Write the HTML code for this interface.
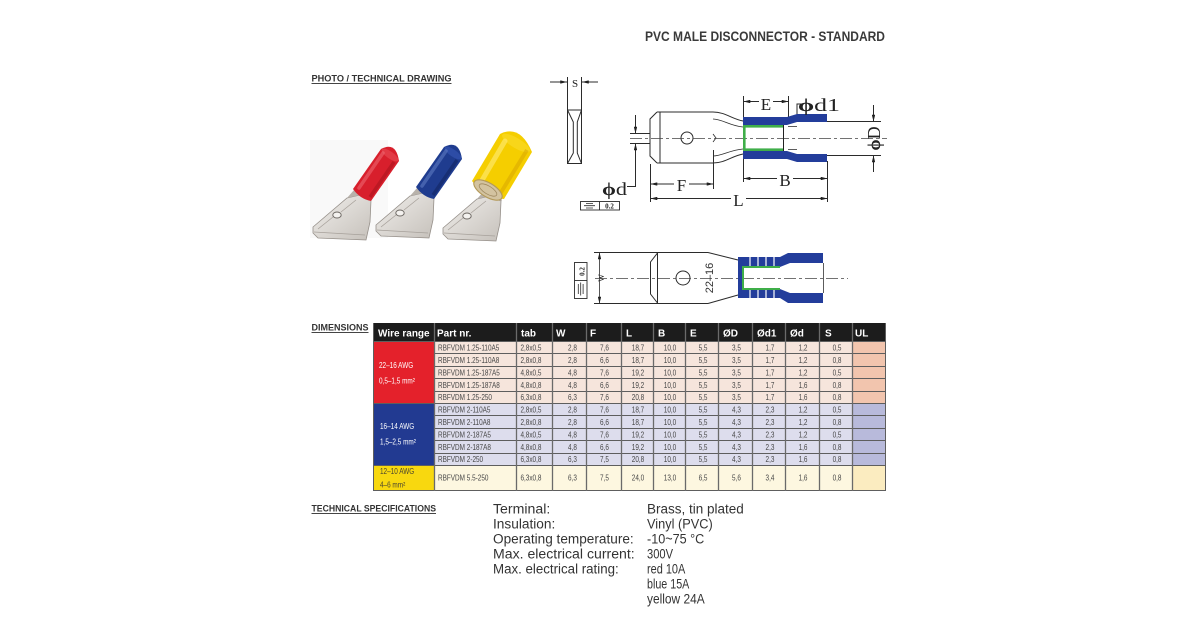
<!DOCTYPE html>
<html><head><meta charset="utf-8"><style>html,body{margin:0;padding:0;background:#fff;width:1200px;height:630px;overflow:hidden}svg{display:block}</style></head><body>
<svg width="1200" height="630" viewBox="0 0 1200 630" xmlns="http://www.w3.org/2000/svg" font-family="'Liberation Sans',Arial,sans-serif">
<defs>
<marker id="ar" viewBox="0 0 8 4" refX="8" refY="2" markerWidth="7" markerHeight="3.4" markerUnits="userSpaceOnUse" orient="auto-start-reverse"><path d="M0,0L8,2L0,4z" fill="#222"/></marker>
<linearGradient id="mt" x1="0" y1="0" x2="1" y2="1"><stop offset="0" stop-color="#f1efec"/><stop offset="1" stop-color="#c6c1bb"/></linearGradient>
<g id="tab">
 <polygon points="313,227 347,198 360,195 371,200 370,222 366,240 318,238 313,233" fill="url(#mt)" stroke="#958f89" stroke-width="0.8"/>
 <path d="M314,232 L365,235 M318,229 L333,217 M341,212 L356,200" stroke="#a7a19b" stroke-width="0.8" fill="none"/>
 <ellipse cx="337" cy="215" rx="4.2" ry="3" fill="#f4f2ef" stroke="#6f6a65" stroke-width="1"/>
 <polygon points="347,198 354,190 370,193 372,200 360,195" fill="#b8b2ab"/>
</g>
</defs>

<!-- Headings -->
<text x="645" y="41" font-size="13.5" font-weight="bold" fill="#3a3a3a" textLength="240" lengthAdjust="spacingAndGlyphs">PVC MALE DISCONNECTOR - STANDARD</text>
<text x="311.5" y="81.5" font-size="9.5" font-weight="bold" fill="#333" textLength="140" lengthAdjust="spacingAndGlyphs">PHOTO / TECHNICAL DRAWING</text>
<line x1="311.5" y1="83.5" x2="451.5" y2="83.5" stroke="#444" stroke-width="0.9"/>
<text x="311.5" y="330.5" font-size="9.5" font-weight="bold" fill="#333" textLength="57" lengthAdjust="spacingAndGlyphs">DIMENSIONS</text>
<line x1="311.5" y1="332.5" x2="368.5" y2="332.5" stroke="#444" stroke-width="0.9"/>
<text x="311.5" y="511.5" font-size="9.5" font-weight="bold" fill="#333" textLength="124.5" lengthAdjust="spacingAndGlyphs">TECHNICAL SPECIFICATIONS</text>
<line x1="311.5" y1="513.5" x2="436" y2="513.5" stroke="#444" stroke-width="0.9"/>

<!-- Photo -->
<rect x="310" y="140" width="78" height="98" fill="#f9f9f9"/>
<!-- red -->
<use href="#tab"/>
<path d="M353,189 L381,149 Q396,141 399,161 L371,201 Q360,199 353,189Z" fill="#d81f2c"/>
<ellipse cx="390" cy="155" rx="10" ry="3.5" transform="rotate(35,390,155)" fill="#e23a45"/>
<path d="M359,188 L383,153" stroke="#f0747d" stroke-width="3.5" stroke-linecap="round" opacity="0.5"/>
<path d="M370,197 L394,162" stroke="#9e1019" stroke-width="3.5" opacity="0.45"/>
<!-- blue -->
<g transform="translate(63,-2)">
 <use href="#tab"/>
 <path d="M353,189 L381,149 Q396,141 399,161 L371,201 Q360,199 353,189Z" fill="#1f3c8f"/>
 <ellipse cx="390" cy="155" rx="10" ry="3.5" transform="rotate(35,390,155)" fill="#2d4ca6"/>
 <path d="M359,188 L383,153" stroke="#6a86cc" stroke-width="3.5" stroke-linecap="round" opacity="0.5"/>
 <path d="M370,197 L394,162" stroke="#0f1f55" stroke-width="3.5" opacity="0.45"/>
</g>
<!-- yellow -->
<g transform="translate(130,1)"><use href="#tab"/></g>
<path d="M472,181 L500,134 Q520,124 532,152 L504,199 Q485,198 472,181Z" fill="#f5ce00"/>
<ellipse cx="516" cy="143" rx="16" ry="5" transform="rotate(31,516,143)" fill="#f8d61a"/>
<path d="M481,182 L505,141" stroke="#ffec7a" stroke-width="5" stroke-linecap="round" opacity="0.6"/>
<path d="M500,194 L527,150" stroke="#d6a400" stroke-width="4" opacity="0.5"/>
<ellipse cx="488" cy="190" rx="16" ry="7" transform="rotate(31,488,190)" fill="#d3c3a0" stroke="#b49a5a" stroke-width="1.2"/>
<ellipse cx="488" cy="190" rx="10" ry="4" transform="rotate(31,488,190)" fill="none" stroke="#a08a60" stroke-width="0.8"/>

<!-- Top technical drawing -->
<g stroke="#2b2b2b" stroke-width="1" fill="none">
 <line x1="550" y1="82" x2="567" y2="82" marker-end="url(#ar)"/>
 <line x1="598" y1="82" x2="582" y2="82" marker-end="url(#ar)"/>
 <path d="M567.5,77 V163.5 H581.5 V77"/>
 <path d="M567.5,110 H581.5 M567.5,110 L573.3,122 V153 L567.5,163.5 M581.5,110 L577.3,122 V153 L581.5,163.5"/>
 <path d="M657,112 L713,112 C725,112 732,119 743,121"/>
 <path d="M657,163 L713,163 C725,163 732,156 743,154"/>
 <path d="M657,112 L650,119 L650,156 L657,163 M660,112 V163"/>
 <path d="M713,119 C722,119 730,126 743,127 M713,156 C722,156 730,150 743,149 M713,134 L716,138 L713,142" stroke-width="0.8"/>
 <circle cx="687" cy="138" r="6"/>
 <line x1="630" y1="138.5" x2="887" y2="138.5" stroke="#444" stroke-width="0.8" stroke-dasharray="12 3 3 3"/>
 <line x1="743.5" y1="96" x2="743.5" y2="118"/>
 <line x1="788.5" y1="96" x2="788.5" y2="118"/>
 <line x1="743.5" y1="101.5" x2="788.5" y2="101.5" marker-start="url(#ar)" marker-end="url(#ar)"/>
 <path d="M797,115 V104 H803"/>
 <line x1="827" y1="121.5" x2="881" y2="121.5"/>
 <line x1="827" y1="155.5" x2="881" y2="155.5"/>
 <line x1="873.5" y1="105" x2="873.5" y2="121.5" marker-end="url(#ar)"/>
 <line x1="873.5" y1="172" x2="873.5" y2="155.5" marker-end="url(#ar)"/>
 <line x1="630" y1="133.5" x2="650" y2="133.5"/>
 <line x1="630" y1="143.5" x2="650" y2="143.5"/>
 <line x1="635.5" y1="115" x2="635.5" y2="133.5" marker-end="url(#ar)"/>
 <path d="M627,186.5 H635.5 V143.5" marker-end="url(#ar)"/>
 <line x1="650.5" y1="164" x2="650.5" y2="202"/>
 <line x1="713.5" y1="150" x2="713.5" y2="189"/>
 <line x1="743.5" y1="158" x2="743.5" y2="182"/>
 <line x1="827.5" y1="161" x2="827.5" y2="202"/>
 <line x1="650.5" y1="184" x2="713.5" y2="184" marker-start="url(#ar)" marker-end="url(#ar)"/>
 <line x1="743.5" y1="178.5" x2="827.5" y2="178.5" marker-start="url(#ar)" marker-end="url(#ar)"/>
 <line x1="650.5" y1="198.5" x2="827.5" y2="198.5" marker-start="url(#ar)" marker-end="url(#ar)"/>
 <rect x="580.5" y="201.5" width="39" height="8.5" stroke-width="0.9"/>
 <line x1="599.5" y1="201.5" x2="599.5" y2="210" stroke-width="0.9"/>
 <path d="M586,203.5 H593 M584,205.7 H595 M586,208 H593" stroke-width="0.8"/>
</g>
<polygon points="743,117 787,117 797,114 827,114 827,122 797,122 787,125 743,125" fill="#233d9b"/>
<polygon points="743,151 787,151 797,154 827,154 827,162 797,162 787,159 743,159" fill="#233d9b"/>
<rect x="744" y="125" width="39" height="2.6" fill="#3fae49"/>
<rect x="744" y="148.4" width="39" height="2.6" fill="#3fae49"/>
<rect x="743" y="125" width="2.6" height="26" fill="#3fae49"/>
<line x1="783.5" y1="125" x2="783.5" y2="151" stroke="#222" stroke-width="1"/>
<line x1="788" y1="126.5" x2="797" y2="126.5" stroke="#333" stroke-width="0.8"/>
<line x1="788" y1="149.5" x2="797" y2="149.5" stroke="#333" stroke-width="0.8"/>

<g font-family="'Liberation Serif','DejaVu Serif',serif" fill="#222">
 <text x="575" y="87" font-size="11" text-anchor="middle">S</text>
 <rect x="759" y="96" width="14" height="13" fill="#fff"/>
 <text x="766" y="110" font-size="17" text-anchor="middle">E</text>
 <text x="798" y="111" font-size="18" textLength="42" lengthAdjust="spacingAndGlyphs"><tspan font-weight="bold">ϕ</tspan>d1</text>
 <text transform="translate(880,138.5) rotate(-90)" font-size="18" text-anchor="middle"><tspan font-weight="bold">ϕ</tspan>D</text>
 <text x="602" y="195" font-size="18" textLength="25" lengthAdjust="spacingAndGlyphs"><tspan font-weight="bold">ϕ</tspan>d</text>
 <rect x="674" y="178" width="15" height="13" fill="#fff"/>
 <text x="681.5" y="191" font-size="17" text-anchor="middle">F</text>
 <rect x="777" y="172" width="16" height="14" fill="#fff"/>
 <text x="785" y="186" font-size="17" text-anchor="middle">B</text>
 <rect x="731" y="192" width="15" height="14" fill="#fff"/>
 <text x="738.5" y="206" font-size="17" text-anchor="middle">L</text>
 <text x="609.5" y="208.5" font-size="7" font-weight="bold" text-anchor="middle">0.2</text>
</g>

<!-- Bottom technical drawing -->
<g stroke="#2b2b2b" stroke-width="1" fill="none">
 <rect x="574.5" y="262.5" width="12.5" height="36" stroke-width="0.9"/>
 <line x1="574.5" y1="280.5" x2="587" y2="280.5" stroke-width="0.9"/>
 <path d="M578.3,284 V294 M580.7,282.5 V295.5 M583.1,284 V294" stroke-width="0.8"/>
 <line x1="594" y1="252.5" x2="708" y2="252.5"/>
 <line x1="594" y1="303.5" x2="708" y2="303.5"/>
 <line x1="599.5" y1="252.5" x2="599.5" y2="303.5" marker-start="url(#ar)" marker-end="url(#ar)" stroke-width="0.8"/>
 <path d="M708,252.5 L738,260 M708,303.5 L738,295"/>
 <path d="M657.5,252.5 V303.5 M657.5,253 L650.5,262 V294 L657.5,303"/>
 <circle cx="683" cy="278" r="7"/>
 <line x1="595" y1="278.5" x2="848" y2="278.5" stroke="#444" stroke-width="0.8" stroke-dasharray="12 3 3 3"/>
</g>
<polygon points="738,257 780,257 780,267 742,267 742,289 780,289 780,298 738,298" fill="#233d9b"/>
<g stroke="#fff" stroke-width="1.2">
 <line x1="750" y1="257" x2="750" y2="266"/><line x1="758" y1="257" x2="758" y2="266"/><line x1="766" y1="257" x2="766" y2="266"/><line x1="774" y1="257" x2="774" y2="266"/>
 <line x1="750" y1="290" x2="750" y2="298"/><line x1="758" y1="290" x2="758" y2="298"/><line x1="766" y1="290" x2="766" y2="298"/><line x1="774" y1="290" x2="774" y2="298"/>
</g>
<rect x="742" y="266" width="38" height="2" fill="#3fae49"/>
<rect x="742" y="288" width="38" height="2" fill="#3fae49"/>
<rect x="742" y="266" width="2" height="24" fill="#3fae49"/>
<polygon points="780,257 788,253 823,253 823,263 790,263 780,267" fill="#233d9b"/>
<polygon points="780,298 788,303 823,303 823,293 790,293 780,289" fill="#233d9b"/>
<line x1="823.5" y1="263" x2="823.5" y2="293" stroke="#333" stroke-width="0.8"/>
<text transform="translate(713,278) rotate(-90)" font-size="11" text-anchor="middle" fill="#333">22–16</text>
<text transform="translate(604,278) rotate(-90)" font-size="8" text-anchor="middle" fill="#222" font-family="'Liberation Serif',serif">W</text>
<text transform="translate(584.5,271.5) rotate(-90)" font-size="7" font-weight="bold" text-anchor="middle" fill="#222" font-family="'Liberation Serif',serif">0.2</text>

<!-- Table -->
<rect x="373" y="323" width="512" height="18" fill="#1c1c1c"/>
<rect x="373" y="341" width="61" height="62" fill="#e4212b"/>
<rect x="373" y="403" width="61" height="62" fill="#223a91"/>
<rect x="373" y="465" width="61" height="25" fill="#f8d80f"/>
<rect x="434" y="341" width="418" height="62" fill="#f6e5dc"/>
<rect x="852" y="341" width="33" height="62" fill="#f2c5ae"/>
<rect x="434" y="403" width="418" height="62" fill="#dddded"/>
<rect x="852" y="403" width="33" height="62" fill="#b8badb"/>
<rect x="434" y="465" width="418" height="25" fill="#fdf7e0"/>
<rect x="852" y="465" width="33" height="25" fill="#fbecc0"/>
<g stroke="#5e5e5e" stroke-width="1">
 <path d="M434,353.5H885 M434,366.5H885 M434,378.5H885 M434,391.5H885 M434,415.5H885 M434,428.5H885 M434,440.5H885 M434,453.5H885"/>
 <path d="M373,341.5H885 M373,403.5H885 M373,465.5H885 M373,490.5H885"/>
 <path d="M373.5,323V491 M885.5,323V491"/>
</g>
<g stroke="#6a6a6a" stroke-width="1.3">
 <path d="M434.5,323V491 M516.5,323V491 M552.5,323V491 M586.5,323V491 M621.5,323V491 M653.5,323V491 M685.5,323V491 M718.5,323V491 M752.5,323V491 M785.5,323V491 M819.5,323V491 M852.5,323V491"/>
</g>
<g font-size="10" font-weight="bold" fill="#fff">
 <text y="336.5"><tspan x="378">Wire range</tspan><tspan x="437">Part nr.</tspan><tspan x="521">tab</tspan><tspan x="556">W</tspan><tspan x="590">F</tspan><tspan x="626">L</tspan><tspan x="658">B</tspan><tspan x="690">E</tspan><tspan x="723">ØD</tspan><tspan x="757">Ød1</tspan><tspan x="790">Ød</tspan><tspan x="825">S</tspan><tspan x="855">UL</tspan></text>
</g>
<g transform="scale(0.8,1)" font-size="8">
 <g fill="#fff">
  <text x="473.75" y="368">22–16 AWG</text>
  <text x="473.75" y="383.5">0,5–1,5 mm²</text>
  <text x="475" y="429">16–14 AWG</text>
  <text x="475" y="444.5">1,5–2,5 mm²</text>
 </g>
 <g fill="#4a4530">
  <text x="475" y="474">12–10 AWG</text>
  <text x="475" y="487.5">4–6 mm²</text>
 </g>
 <g fill="#474747">
  <text y="350.5"><tspan x="547.5">RBFVDM 1.25-110A5</tspan><tspan x="650.6">2,8x0,5</tspan></text>
  <text y="363"><tspan x="547.5">RBFVDM 1.25-110A8</tspan><tspan x="650.6">2,8x0,8</tspan></text>
  <text y="375.5"><tspan x="547.5">RBFVDM 1.25-187A5</tspan><tspan x="650.6">4,8x0,5</tspan></text>
  <text y="388"><tspan x="547.5">RBFVDM 1.25-187A8</tspan><tspan x="650.6">4,8x0,8</tspan></text>
  <text y="400"><tspan x="547.5">RBFVDM 1.25-250</tspan><tspan x="650.6">6,3x0,8</tspan></text>
  <text y="412.5"><tspan x="547.5">RBFVDM 2-110A5</tspan><tspan x="650.6">2,8x0,5</tspan></text>
  <text y="425"><tspan x="547.5">RBFVDM 2-110A8</tspan><tspan x="650.6">2,8x0,8</tspan></text>
  <text y="437.5"><tspan x="547.5">RBFVDM 2-187A5</tspan><tspan x="650.6">4,8x0,5</tspan></text>
  <text y="450"><tspan x="547.5">RBFVDM 2-187A8</tspan><tspan x="650.6">4,8x0,8</tspan></text>
  <text y="462"><tspan x="547.5">RBFVDM 2-250</tspan><tspan x="650.6">6,3x0,8</tspan></text>
  <text y="480.5"><tspan x="547.5">RBFVDM 5.5-250</tspan><tspan x="650.6">6,3x0,8</tspan></text>
 </g>
 <g fill="#474747" text-anchor="middle">
  <text y="350.5"><tspan x="715.6">2,8</tspan><tspan x="755.6">7,6</tspan><tspan x="797.5">18,7</tspan><tspan x="837.5">10,0</tspan><tspan x="878.8">5,5</tspan><tspan x="920.6">3,5</tspan><tspan x="962.5">1,7</tspan><tspan x="1003.8">1,2</tspan><tspan x="1046.3">0,5</tspan></text>
  <text y="363"><tspan x="715.6">2,8</tspan><tspan x="755.6">6,6</tspan><tspan x="797.5">18,7</tspan><tspan x="837.5">10,0</tspan><tspan x="878.8">5,5</tspan><tspan x="920.6">3,5</tspan><tspan x="962.5">1,7</tspan><tspan x="1003.8">1,2</tspan><tspan x="1046.3">0,8</tspan></text>
  <text y="375.5"><tspan x="715.6">4,8</tspan><tspan x="755.6">7,6</tspan><tspan x="797.5">19,2</tspan><tspan x="837.5">10,0</tspan><tspan x="878.8">5,5</tspan><tspan x="920.6">3,5</tspan><tspan x="962.5">1,7</tspan><tspan x="1003.8">1,2</tspan><tspan x="1046.3">0,5</tspan></text>
  <text y="388"><tspan x="715.6">4,8</tspan><tspan x="755.6">6,6</tspan><tspan x="797.5">19,2</tspan><tspan x="837.5">10,0</tspan><tspan x="878.8">5,5</tspan><tspan x="920.6">3,5</tspan><tspan x="962.5">1,7</tspan><tspan x="1003.8">1,6</tspan><tspan x="1046.3">0,8</tspan></text>
  <text y="400"><tspan x="715.6">6,3</tspan><tspan x="755.6">7,6</tspan><tspan x="797.5">20,8</tspan><tspan x="837.5">10,0</tspan><tspan x="878.8">5,5</tspan><tspan x="920.6">3,5</tspan><tspan x="962.5">1,7</tspan><tspan x="1003.8">1,6</tspan><tspan x="1046.3">0,8</tspan></text>
  <text y="412.5"><tspan x="715.6">2,8</tspan><tspan x="755.6">7,6</tspan><tspan x="797.5">18,7</tspan><tspan x="837.5">10,0</tspan><tspan x="878.8">5,5</tspan><tspan x="920.6">4,3</tspan><tspan x="962.5">2,3</tspan><tspan x="1003.8">1,2</tspan><tspan x="1046.3">0,5</tspan></text>
  <text y="425"><tspan x="715.6">2,8</tspan><tspan x="755.6">6,6</tspan><tspan x="797.5">18,7</tspan><tspan x="837.5">10,0</tspan><tspan x="878.8">5,5</tspan><tspan x="920.6">4,3</tspan><tspan x="962.5">2,3</tspan><tspan x="1003.8">1,2</tspan><tspan x="1046.3">0,8</tspan></text>
  <text y="437.5"><tspan x="715.6">4,8</tspan><tspan x="755.6">7,6</tspan><tspan x="797.5">19,2</tspan><tspan x="837.5">10,0</tspan><tspan x="878.8">5,5</tspan><tspan x="920.6">4,3</tspan><tspan x="962.5">2,3</tspan><tspan x="1003.8">1,2</tspan><tspan x="1046.3">0,5</tspan></text>
  <text y="450"><tspan x="715.6">4,8</tspan><tspan x="755.6">6,6</tspan><tspan x="797.5">19,2</tspan><tspan x="837.5">10,0</tspan><tspan x="878.8">5,5</tspan><tspan x="920.6">4,3</tspan><tspan x="962.5">2,3</tspan><tspan x="1003.8">1,6</tspan><tspan x="1046.3">0,8</tspan></text>
  <text y="462"><tspan x="715.6">6,3</tspan><tspan x="755.6">7,5</tspan><tspan x="797.5">20,8</tspan><tspan x="837.5">10,0</tspan><tspan x="878.8">5,5</tspan><tspan x="920.6">4,3</tspan><tspan x="962.5">2,3</tspan><tspan x="1003.8">1,6</tspan><tspan x="1046.3">0,8</tspan></text>
  <text y="480.5"><tspan x="715.6">6,3</tspan><tspan x="755.6">7,5</tspan><tspan x="797.5">24,0</tspan><tspan x="837.5">13,0</tspan><tspan x="878.8">6,5</tspan><tspan x="920.6">5,6</tspan><tspan x="962.5">3,4</tspan><tspan x="1003.8">1,6</tspan><tspan x="1046.3">0,8</tspan></text>
 </g>
</g>

<!-- Technical specifications -->
<g font-size="13.5" fill="#333">
 <text x="493" y="513.5" textLength="57.3" lengthAdjust="spacingAndGlyphs">Terminal:</text>
 <text x="493" y="528.5" textLength="62.3" lengthAdjust="spacingAndGlyphs">Insulation:</text>
 <text x="493" y="543.5" textLength="140.7" lengthAdjust="spacingAndGlyphs">Operating temperature:</text>
 <text x="493" y="558.5" textLength="141.7" lengthAdjust="spacingAndGlyphs">Max. electrical current:</text>
 <text x="493" y="573.5" textLength="125.7" lengthAdjust="spacingAndGlyphs">Max. electrical rating:</text>
 <text x="647" y="513.5" textLength="96.7" lengthAdjust="spacingAndGlyphs">Brass, tin plated</text>
 <text x="647" y="528.5" textLength="65.7" lengthAdjust="spacingAndGlyphs">Vinyl (PVC)</text>
 <text x="647" y="543.5" textLength="57.3" lengthAdjust="spacingAndGlyphs">-10~75 °C</text>
 <text x="647" y="558.5" textLength="26" lengthAdjust="spacingAndGlyphs">300V</text>
 <text x="647" y="573.5" textLength="38.3" lengthAdjust="spacingAndGlyphs">red 10A</text>
 <text x="647" y="588.5" textLength="42.3" lengthAdjust="spacingAndGlyphs">blue 15A</text>
 <text x="647" y="603.5" textLength="57.7" lengthAdjust="spacingAndGlyphs">yellow 24A</text>
</g>
</svg>
</body></html>
